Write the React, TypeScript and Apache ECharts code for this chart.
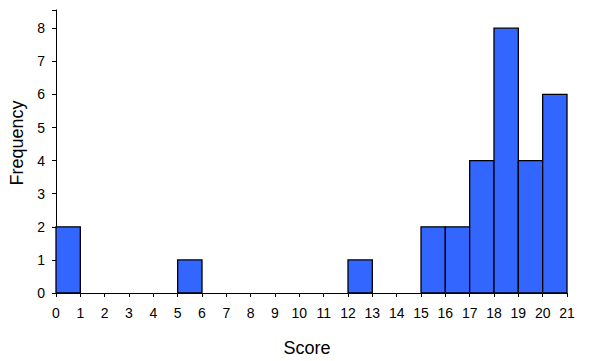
import React, { useEffect, useRef } from "react";
import * as echarts from "echarts";

const binStarts = [0, 1, 2, 3, 4, 5, 6, 7, 8, 9, 10, 11, 12, 13, 14, 15, 16, 17, 18, 19, 20];
const frequencies = [2, 0, 0, 0, 0, 1, 0, 0, 0, 0, 0, 0, 1, 0, 0, 2, 2, 4, 8, 4, 6];
const xTitle = "Score";
const yTitle = "Frequency";

export default function App() {
  const ref = useRef<HTMLDivElement>(null);
  useEffect(() => {
    if (!ref.current) return;
    const chart = echarts.init(ref.current, undefined, { renderer: "svg" });
    const data = binStarts
      .map((s, i) => [s, s + 1, frequencies[i]])
      .filter((d) => d[2] > 0);
    const font = "Liberation Sans, Arial, sans-serif";
    chart.setOption({
      animation: false,
      grid: { left: 56, right: 26, top: 10, bottom: 68, containLabel: false },
      xAxis: {
        type: "value",
        min: 0,
        max: 21,
        interval: 1,
        splitLine: { show: false },
        axisLine: { lineStyle: { color: "#000", width: 1 } },
        axisTick: { show: true, length: 4, lineStyle: { color: "#000" } },
        axisLabel: { color: "#000", fontSize: 14, fontFamily: font, margin: 13 },
      },
      yAxis: {
        type: "value",
        min: 0,
        max: 8.55,
        interval: 1,
        splitLine: { show: false },
        axisLine: { show: true, lineStyle: { color: "#000", width: 1 } },
        axisTick: { show: true, length: 4, lineStyle: { color: "#000" } },
        axisLabel: {
          color: "#000",
          fontSize: 14,
          fontFamily: font,
          margin: 11,
          formatter: (v: number) => (Number.isInteger(v) ? String(v) : ""),
        },
      },
      series: [
        {
          type: "custom",
          data,
          encode: { x: [0, 1], y: 2 },
          renderItem: (params: any, api: any) => {
            const p0 = api.coord([api.value(0), api.value(2)]);
            const p1 = api.coord([api.value(1), 0]);
            return {
              type: "rect",
              shape: { x: p0[0], y: p0[1], width: p1[0] - p0[0], height: p1[1] - p0[1] },
              style: { fill: "#3366FF", stroke: "#000", lineWidth: 1.3 },
            };
          },
        },
      ],
      graphic: [
        {
          type: "text",
          x: 307,
          y: 348,
          style: {
            text: xTitle,
            fill: "#000",
            font: `18px ${font}`,
            align: "center",
            verticalAlign: "middle",
          },
        },
        {
          type: "text",
          x: 17,
          y: 143,
          rotation: Math.PI / 2,
          style: {
            text: yTitle,
            fill: "#000",
            font: `18px ${font}`,
            align: "center",
            verticalAlign: "middle",
          },
        },
      ],
    });
    return () => chart.dispose();
  }, []);
  return <div ref={ref} style={{ width: 593, height: 361, position: "absolute", left: 0, top: 0 }} />;
}
